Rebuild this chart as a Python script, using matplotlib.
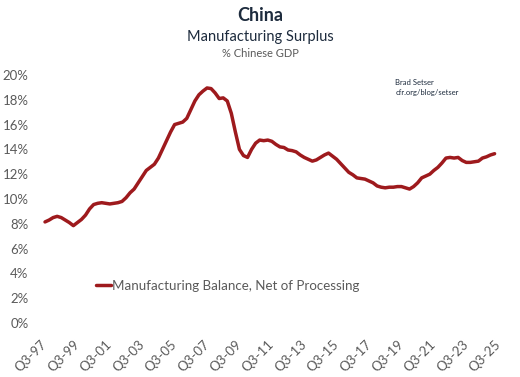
import numpy as np
import matplotlib.pyplot as plt

# quarterly, Q3-1997 .. Q2-2025, % of GDP
balance = [8.15, 8.3, 8.5, 8.6, 8.5, 8.3, 8.1, 7.85, 8.1, 8.35,
           8.7, 9.2, 9.55, 9.65, 9.7, 9.65, 9.6, 9.65, 9.7, 9.8,
           10.1, 10.5, 10.8, 11.3, 11.8, 12.3, 12.55, 12.8, 13.3, 14.0,
           14.7, 15.4, 16.0, 16.1, 16.2, 16.5, 17.2, 17.9, 18.4, 18.7,
           18.95, 18.9, 18.55, 18.1, 18.15, 17.9, 16.9, 15.4, 14.0, 13.5,
           13.35, 14.0, 14.5, 14.75, 14.7, 14.75, 14.65, 14.4, 14.2, 14.15,
           13.95, 13.9, 13.8, 13.55, 13.35, 13.2, 13.05, 13.15, 13.35, 13.55,
           13.7, 13.45, 13.2, 12.85, 12.5, 12.15, 11.95, 11.7, 11.65, 11.6,
           11.45, 11.3, 11.05, 10.95, 10.9, 10.95, 10.95, 11.0, 11.0, 10.9,
           10.8, 11.0, 11.3, 11.7, 11.85, 12.0, 12.3, 12.55, 12.9, 13.3,
           13.35, 13.3, 13.35, 13.1, 12.95, 12.95, 13.0, 13.05, 13.3, 13.4,
           13.55, 13.65]
tick_labels = ['Q3-97', 'Q3-99', 'Q3-01', 'Q3-03', 'Q3-05', 'Q3-07', 'Q3-09', 'Q3-11',
               'Q3-13', 'Q3-15', 'Q3-17', 'Q3-19', 'Q3-21', 'Q3-23', 'Q3-25']
y_ticks = [0, 2, 4, 6, 8, 10, 12, 14, 16, 18, 20]

plt.rcParams['font.family'] = ['Lato', 'DejaVu Sans']
navy = '#1d2b3d'
grey = '#5a5a5a'

fig = plt.figure(figsize=(5.2, 3.77), dpi=100)
ax = fig.add_axes([0.071, 0.1432, 0.9035, 0.658])

q = np.arange(len(balance))
ax.plot(q, balance, color='#9e1a1d', lw=2.5, solid_capstyle='round',
        label='Manufacturing Balance, Net of Processing')

ax.set_xlim(-2, 114)
ax.set_ylim(0, 20)
ax.set_yticks(y_ticks)
ax.set_yticklabels([f'{v}%' for v in y_ticks], color=grey, fontsize=9.5)
ax.set_xticks(np.arange(0, 8 * len(tick_labels), 8))
ax.set_xticklabels(tick_labels, rotation=45, ha='right', va='center',
                   rotation_mode='anchor', color=grey, fontsize=9.5)
ax.tick_params(length=0, axis='y', pad=6)
ax.tick_params(length=0, axis='x', pad=14)
for s in ax.spines.values():
    s.set_visible(False)

ax.legend(loc='center left', bbox_to_anchor=(0.1, 0.15), frameon=False,
          fontsize=9.6, labelcolor=grey, handlelength=1.1, handletextpad=0.1)

fig.text(0.5, 0.958, 'China', ha='center', va='center', fontsize=13,
         fontweight='bold', color=navy)
fig.text(0.5, 0.903, 'Manufacturing Surplus', ha='center', va='center',
         fontsize=10.5, color=navy)
fig.text(0.5, 0.857, '% Chinese GDP', ha='center', va='center',
         fontsize=8, color=grey)
fig.text(0.76, 0.768, 'Brad Setser\ncfr.org/blog/setser', ha='left', va='center',
         fontsize=5.5, color=navy, linespacing=1.4)

fig.savefig('out.png', dpi=100)
